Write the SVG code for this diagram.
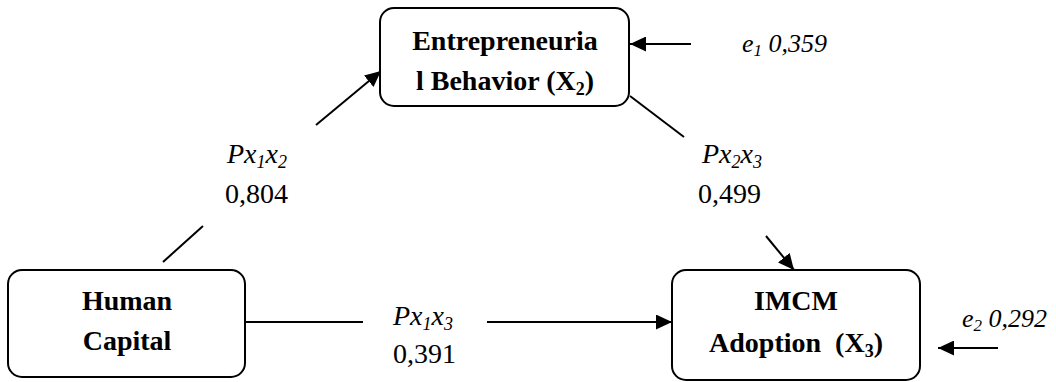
<svg xmlns="http://www.w3.org/2000/svg" width="1056" height="382" viewBox="0 0 1056 382">
<style>
.box{fill:#fff;stroke:#000;stroke-width:2}
.bt{font-family:'Liberation Serif','Times New Roman',Tinos,'DejaVu Serif','Noto Serif',serif;font-weight:bold;font-size:28px;text-anchor:middle;fill:#000}
.lab{font-family:'Liberation Serif','Times New Roman',Tinos,'DejaVu Serif','Noto Serif',serif;font-size:28px;fill:#000}
.it{font-style:italic}
.err{font-family:'Liberation Serif','Times New Roman',Tinos,'DejaVu Serif','Noto Serif',serif;font-style:italic;font-size:26px;fill:#000}
.ln{stroke:#000;stroke-width:2;fill:none}
</style>
<defs>
<marker id="ah" markerUnits="userSpaceOnUse" markerWidth="18" markerHeight="15" refX="16" refY="7.5" orient="auto">
<path d="M0,0 L16,7.5 L0,15 Z" fill="#000"/>
</marker>
</defs>
<g id="connectors">
<line class="ln" x1="163" y1="262" x2="203" y2="226"/>
<line class="ln" x1="316" y1="125" x2="381" y2="71" marker-end="url(#ah)"/>
<line class="ln" x1="630" y1="96" x2="684" y2="137"/>
<line class="ln" x1="766" y1="236" x2="794" y2="270" marker-end="url(#ah)"/>
<line class="ln" x1="245" y1="322" x2="363" y2="322"/>
<line class="ln" x1="487" y1="322" x2="672" y2="322" marker-end="url(#ah)"/>
<line class="ln" x1="691" y1="44" x2="630" y2="44" marker-end="url(#ah)"/>
<line class="ln" x1="998" y1="348" x2="938" y2="348" marker-end="url(#ah)"/>
</g>
<g id="node-entrepreneurial-behavior">
<rect class="box" x="380" y="8" width="249" height="98" rx="14"/>
<text class="bt" x="505" y="50">Entrepreneuria</text>
<text class="bt" x="505" y="90">l Behavior (X<tspan font-size="18" dy="5">2</tspan><tspan dy="-5">)</tspan></text>
</g>
<g id="node-human-capital">
<rect class="box" x="8" y="270" width="237" height="107" rx="14"/>
<text class="bt" x="127" y="310">Human</text>
<text class="bt" x="127" y="350">Capital</text>
</g>
<g id="node-imcm-adoption">
<rect class="box" x="672" y="270" width="248" height="110" rx="14"/>
<text class="bt" x="796" y="310">IMCM</text>
<text class="bt" x="796" y="352" xml:space="preserve">Adoption  (X<tspan font-size="18" dy="5">3</tspan><tspan dy="-5">)</tspan></text>
</g>
<g id="labels">
<text class="lab it" x="227" y="163">Px<tspan font-size="18" dy="5">1</tspan><tspan dy="-5">x</tspan><tspan font-size="18" dy="5">2</tspan></text>
<text class="lab" x="225" y="203">0,804</text>
<text class="lab it" x="393" y="325">Px<tspan font-size="18" dy="5">1</tspan><tspan dy="-5">x</tspan><tspan font-size="18" dy="5">3</tspan></text>
<text class="lab" x="393" y="363">0,391</text>
<text class="lab it" x="702" y="163">Px<tspan font-size="18" dy="5">2</tspan><tspan dy="-5">x</tspan><tspan font-size="18" dy="5">3</tspan></text>
<text class="lab" x="698" y="203">0,499</text>
<text class="err" x="742" y="52">e<tspan font-size="17" dy="4">1</tspan><tspan dy="-4"> 0,359</tspan></text>
<text class="err" x="962" y="327">e<tspan font-size="17" dy="4">2</tspan><tspan dy="-4"> 0,292</tspan></text>
</g>
</svg>
